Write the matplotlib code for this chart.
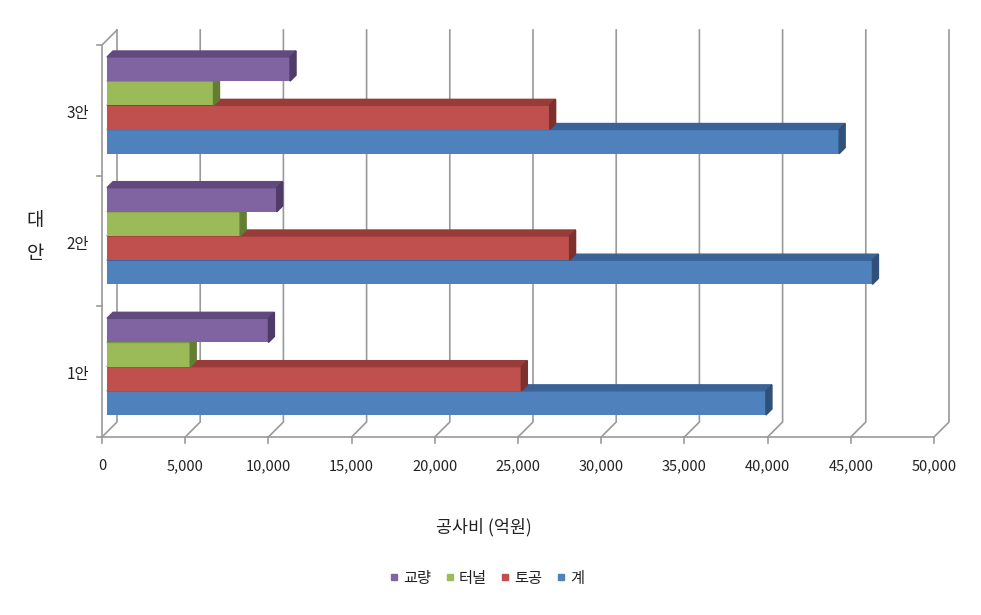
import matplotlib.pyplot as plt
import matplotlib.transforms as mtransforms
from matplotlib.patches import Polygon
from matplotlib.lines import Line2D

plt.rcParams['font.family'] = ['Noto Sans CJK KR', 'DejaVu Sans']

# 데이터 (억원)
categories = ['1안', '2안', '3안']
series_names = ['계', '토공', '터널', '교량']          # 아래에서 위 순서
total = [39600, 46000, 44000]
earth = [24900, 27800, 26600]
tunnel = [5000, 8000, 6400]
bridge = [9700, 10200, 11000]
xticks = list(range(0, 50001, 5000))

values = [total, earth, tunnel, bridge]
face_colors = ['#4F81BD', '#C0504D', '#9BBB59', '#8064A2']
top_colors = ['#3A6296', '#983B39', '#7A9A3F', '#614A80']
side_colors = ['#2F5078', '#7E302E', '#637E32', '#4E3B68']

W, H = 981, 615
fig = plt.figure(figsize=(W / 100, H / 100), dpi=100)
ax = fig.add_axes([107 / W, 1 - 432 / H, 832 / W, 392 / H])
ax.set_xlim(0, 50000)
ax.set_ylim(-0.5, 2.5)
ax.axis('off')

ident = mtransforms.IdentityTransform()
BACK = (10, 10)
FRONT = (-5, -5)
grid_col = '#9a9a9a'
txt_col = '#222222'


def px(x, y, off=(0, 0)):
    a, b = ax.transData.transform((x, y))
    return a + off[0], b + off[1]


def seg(points, **kw):
    xs = [p[0] for p in points]
    ys = [p[1] for p in points]
    fig.add_artist(Line2D(xs, ys, transform=ident, **kw))


# 뒷벽 격자선과 바닥 사선
for v in xticks:
    seg([px(v, 2.5, BACK), px(v, -0.5, BACK), px(v, -0.5, FRONT)], color=grid_col, lw=1.2, zorder=0)

# 왼쪽 벽 / 바닥 앞 모서리
seg([px(0, -0.5, FRONT), px(0, 2.5, FRONT), px(0, 2.5, BACK)], color=grid_col, lw=1.2, zorder=0)
seg([px(0, -0.5, FRONT), px(50000, -0.5, FRONT)], color=grid_col, lw=1.2, zorder=0)
for v in xticks:
    x0, y0 = px(v, -0.5, FRONT)
    seg([(x0, y0), (x0, y0 - 6)], color=grid_col, lw=1.2)
    fig.text(x0, y0 - 29, f'{v:,}', transform=ident, ha='center', va='center',
             fontsize=10.5, color=txt_col)
for b in [-0.5, 0.5, 1.5, 2.5]:
    x0, y0 = px(0, b, FRONT)
    seg([(x0 - 5, y0), (x0, y0)], color=grid_col, lw=1.2)

# 막대 (3D 느낌)
h = 0.185
offsets = [-1.5 * h, -0.5 * h, 0.5 * h, 1.5 * h]
depth = 6
for k, (vals, off) in enumerate(zip(values, offsets)):
    z = 2 + k
    ys = [i + off for i in range(len(categories))]
    ax.barh(ys, vals, height=h, color=face_colors[k], zorder=z)
    for y, v in zip(ys, vals):
        lt = px(0, y + h / 2)
        rt = px(v, y + h / 2)
        rb = px(v, y - h / 2)
        cap = [lt, rt, (rt[0] + depth, rt[1] + depth), (lt[0] + depth, lt[1] + depth)]
        side = [rb, rt, (rt[0] + depth, rt[1] + depth), (rb[0] + depth, rb[1] + depth)]
        ax.add_patch(Polygon(cap, closed=True, transform=ident, color=top_colors[k],
                             zorder=z + 0.1, clip_on=False))
        ax.add_patch(Polygon(side, closed=True, transform=ident, color=side_colors[k],
                             zorder=z + 0.2, clip_on=False))

# 범주 라벨
for i, c in enumerate(categories):
    x0, y0 = px(0, i, FRONT)
    fig.text(89, y0 - 3, c, transform=ident, ha='right', va='center', fontsize=11, color=txt_col)

fig.text(35 / W, 1 - 237 / H, '대\n안', ha='center', va='center', fontsize=13.5,
         linespacing=1.75, color=txt_col)
fig.text(484 / W, 1 - 527 / H, '공사비 (억원)', ha='center', va='center', fontsize=12.5,
         color=txt_col)

handles = [Line2D([], [], ls='none', marker='s', markersize=5, color=face_colors[k])
           for k in [3, 2, 1, 0]]
labels = [series_names[k] for k in [3, 2, 1, 0]]
fig.legend(handles, labels, loc='center', bbox_to_anchor=(487 / W, 1 - 578 / H), ncol=4,
           frameon=False, fontsize=11, handlelength=0.6, handletextpad=0.3,
           columnspacing=0.9, labelcolor=txt_col)

fig.savefig('out.png', dpi=100)
